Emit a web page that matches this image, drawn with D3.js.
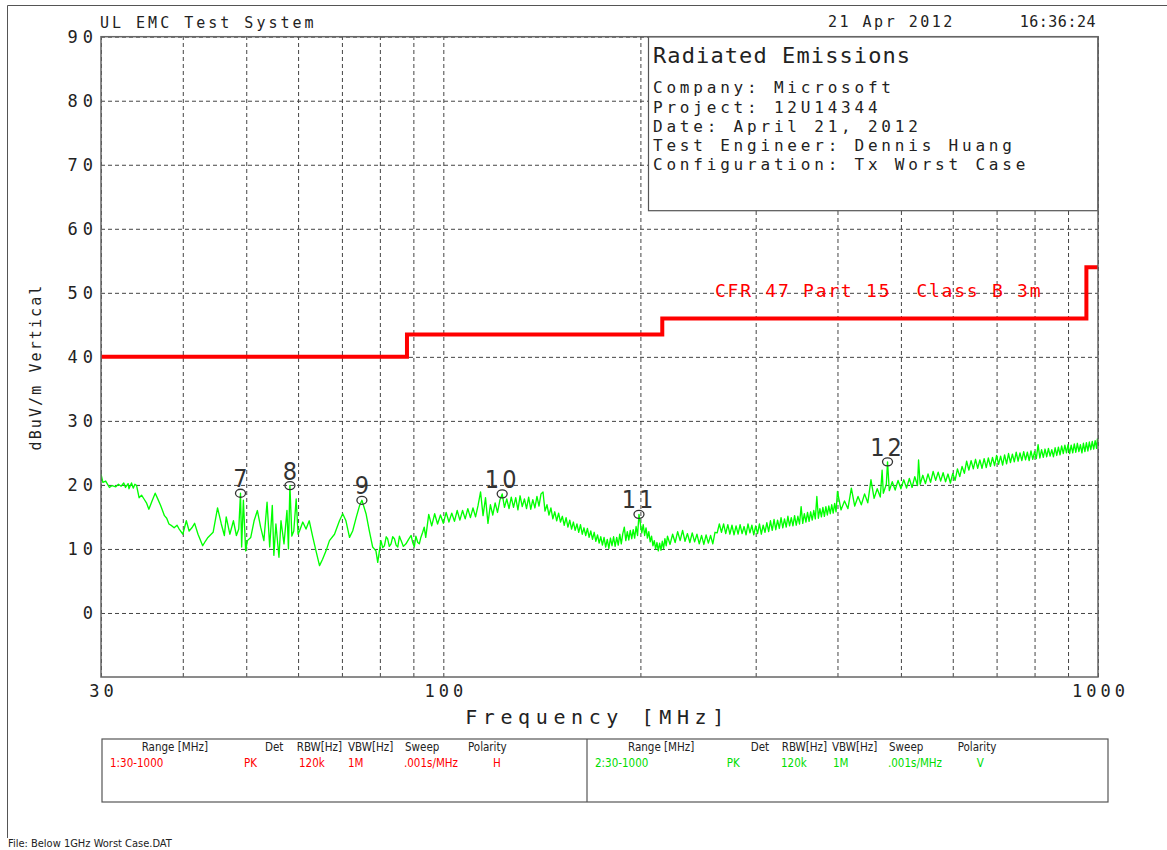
<!DOCTYPE html>
<html>
<head>
<meta charset="utf-8">
<script src="https://cdn.jsdelivr.net/npm/d3@7"></script>
<style>
  html, body { margin: 0; padding: 0; background: #fff; }
  svg { display: block; }
  text { font-family: "DejaVu Sans Mono", "Liberation Mono", monospace; fill: #222; }
  text.cond { font-family: "DejaVu Sans Condensed", "Liberation Sans Narrow", "DejaVu Sans", sans-serif; }
</style>
</head>
<body>
<svg id="chart" width="1167" height="850"></svg>
<script>
// ---- axis ticks and grid ----
const yTicks = [0, 10, 20, 30, 40, 50, 60, 70, 80, 90];
const xTickLabels = [30, 100, 1000];
const xGrid = [40, 50, 60, 70, 80, 90, 100, 200, 300, 400, 500, 600, 700, 800, 900];

// ---- FCC Part 15 Class B (3 m) limit, MHz / dBuV/m ----
const limitFreq  = [30, 88, 88, 216, 216, 960, 960, 1000];
const limitLevel = [40, 40, 43.5, 43.5, 46, 46, 54, 54];
const limitLabel = "CFR 47 Part 15  Class B 3m";

// ---- vertical polarity sweep, [MHz, dBuV/m] ----
const sweepV = [
  [30.0,21.7],[30.2,20.4],[30.5,20.6],[30.9,19.6],[31.2,19.9],[31.6,19.7],[31.9,20.1],[32.2,19.8],[32.5,20.3],[32.7,19.6],
  [33.0,20.2],[33.1,19.4],[33.4,20.3],[33.6,19.5],[33.8,20.1],[34.0,19.9],[34.3,18.0],[34.6,18.4],[34.9,17.8],[35.2,17.2],
  [35.5,16.2],[35.9,17.5],[36.3,18.7],[36.6,17.9],[37.0,16.8],[37.5,15.2],[37.8,14.8],[38.1,13.9],[38.5,13.6],[38.8,13.3],
  [39.2,13.7],[39.5,13.1],[40.0,12.3],[40.5,14.4],[40.9,12.8],[41.3,13.3],[41.7,14.0],[42.2,12.3],[42.9,10.5],[43.3,11.2],
  [43.7,11.8],[44.5,12.6],[45.2,16.4],[45.8,13.9],[46.3,12.1],[46.6,15.0],[47.2,12.3],[47.8,14.4],[48.3,12.1],[48.7,13.1],
  [49.0,18.7],[49.2,10.3],[49.5,17.6],[49.9,9.7],[50.2,11.3],[50.8,11.8],[51.4,14.4],[52.0,16.0],[52.6,13.4],[53.2,11.3],
  [53.8,17.3],[54.3,10.3],[54.8,16.8],[55.1,9.0],[55.5,13.9],[56.1,8.7],[56.5,14.4],[57.1,10.8],[57.7,16.0],[58.0,10.0],
  [58.3,19.9],[58.7,12.0],[59.1,12.8],[59.6,17.8],[60.0,12.3],[60.3,12.8],[61.0,14.2],[61.7,13.1],[62.4,14.4],[63.2,11.8],
  [63.9,9.7],[64.7,7.4],[65.4,8.4],[66.2,9.7],[67.0,11.3],[68.2,12.3],[69.4,14.4],[70.2,15.5],[71.0,14.4],[71.9,11.8],
  [72.7,12.8],[73.6,14.9],[74.5,16.8],[75.1,17.6],[76.2,15.5],[77.1,12.8],[78.0,10.3],[78.9,9.7],[79.4,7.9],[80.3,11.3],
  [80.8,10.2],[81.3,10.5],[81.8,11.9],[82.2,11.6],[82.7,10.4],[83.2,10.8],[83.7,11.9],[84.2,11.6],[84.7,10.6],[85.2,10.3],
  [85.7,12.0],[86.2,11.3],[86.9,10.4],[87.7,10.8],[88.5,11.5],[89.3,12.1],[89.8,11.0],[90.3,10.3],[90.8,12.0],[91.4,11.0],
  [91.9,10.8],[92.4,11.8],[93.0,12.6],[93.5,13.4],[94.0,11.8],
  [95,15.4],[96,13.6],[97,15.5],[98,13.9],[99,15.3],[100,14.0],[101,15.7],[102,14.2],[103,15.6],[104,14.3],
  [105,16.0],[106,14.5],[107,16.0],[108,14.7],[109,16.3],[110,14.9],[111,16.4],[112,15.0],[113,16.8],[114,18.9],
  [115,15.2],[116,18.0],[117,14.0],[118,16.9],[119,15.3],[120,17.2],[121,15.7],[122,17.6],[123,18.6],[124,16.5],
  [125,17.8],[126,16.3],[127,18.1],[128,16.5],[129,18.0],[130,16.1],[131,18.3],[132,16.6],[133,17.8],[134,16.3],
  [135,18.1],[136,16.2],[137,17.7],[138,16.4],[139,18.2],[140,16.7],[141,18.6],[142,18.9],[143,15.9],[144,16.9],
  [145,15.3],[146,16.4],[147,14.7],[148,15.8],[149,14.4],[150,15.6],[151,14.2],[152,15.1],[153,13.7],[154,14.9],
  [155,13.4],[156,14.5],[157,13.1],[158,14.2],[159,12.9],[160,13.9],[161,12.6],[162,13.8],[163,12.3],[164,13.3],
  [165,12.1],[166,13.2],[167,11.8],[168,12.8],[169,11.5],[170,12.6],[171,11.2],[172,12.2],[173,10.9],[174,11.9],
  [175,10.6],[176,11.8],[177,10.3],[178,11.5],[179,10.1],[180,11.7],[181,10.5],[182,11.9],[183,10.4],[184,11.8],
  [185,10.6],[186,12.3],[187,10.8],[188,12.4],[189,13.4],[190,11.3],[191,12.7],[192,11.4],[193,12.9],[194,11.6],
  [195,13.0],[196,11.7],[197,13.5],[198,12.1],[199,15.4],[200,13.9],[201,12.5],[202,13.8],[203,12.1],[204,13.3],
  [205,11.7],[206,12.7],[207,11.1],[208,12.0],[209,10.5],[210,11.3],[211,10.0],[212,11.0],[213,9.7],[214,10.9],
  [215,9.8],[216,11.2],[217,10.1],[218,11.6],[219,10.5],[220,12.0],
  [222,10.7],[224,12.3],[226,11.0],[228,12.7],[230,11.3],[232,12.9],[234,11.2],[236,12.4],[238,11.0],[240,12.5],
  [242,11.1],[244,12.3],[246,10.8],[248,12.1],[250,10.7],[252,12.2],[254,10.9],[256,12.1],[258,10.8],[260,12.6],
  [262,12.5],[264,13.9],[266,12.6],[268,13.9],[270,12.4],[272,13.8],[274,12.3],[276,13.7],[278,12.2],[280,13.6],
  [282,12.3],[284,13.8],[286,12.4],[288,13.5],[290,12.2],[292,13.9],[294,12.5],[296,13.7],[298,12.2],[300,13.6],
  [302,12.4],[304,13.9],[306,12.3],[308,13.7],[310,12.6],[312,14.1],[314,12.7],[316,14.4],[318,12.9],[320,14.6],
  [322,13.0],[324,14.5],[326,13.2],[328,14.9],[330,13.3],[332,14.7],[334,13.4],[336,15.1],[338,13.6],[340,14.9],
  [342,13.6],[344,15.2],[346,13.7],[348,15.1],[350,13.9],[352,16.6],[354,14.0],[356,15.5],[358,14.2],[360,15.7],
  [362,14.3],[364,15.8],[366,14.5],[368,16.0],[370,14.7],[372,18.2],[374,14.8],[376,16.3],[378,15.0],[380,16.5],
  [382,15.1],[384,16.6],[386,15.3],[388,16.7],[390,15.5],[392,16.9],[394,15.6],[396,17.1],[398,15.8],[400,19.0],
  [405,16.1],[410,17.5],[415,16.3],[420,19.5],[425,16.7],[430,18.2],[435,16.9],[440,18.6],[445,17.2],[450,20.8],
  [455,17.9],[460,19.4],[465,18.1],[468,22.3],[470,18.7],[475,20.1],[477,23.6],[480,19.1],[485,20.5],[490,19.2],
  [495,20.7],[500,19.4],[505,20.8],[510,19.5],[515,21.0],[520,19.6],[525,21.3],[530,19.9],[532,23.9],[535,20.1],
  [540,21.5],[545,20.2],[550,21.7],[555,20.4],[560,22.1],[565,20.7],[570,22.0],[575,20.6],[580,21.9],[585,20.5],
  [590,21.7],[595,20.3],[600,21.8],[605,20.7],[610,22.5],[615,21.3],[620,22.9],[625,21.8],[630,23.7],[635,22.3],
  [640,23.8],[645,22.5],[650,24.0],[655,22.6],[660,23.9],[665,22.6],[670,24.1],[675,22.7],[680,24.2],[685,22.9],
  [690,24.3],[695,23.0],[700,24.6],[705,23.2],[710,24.5],[715,23.1],[720,24.7],[725,23.3],[730,24.9],[735,23.5],
  [740,24.8],[745,23.6],[750,25.1],[755,23.7],[760,25.0],[765,23.8],[770,25.2],[775,23.9],[780,25.1],[785,23.8],
  [790,25.3],[795,24.0],[800,25.2],[805,24.1],[810,26.3],[815,24.2],[820,25.5],[825,24.3],[830,25.6],[835,24.4],
  [840,25.7],[845,24.5],[850,25.5],[855,24.4],[860,25.8],[865,24.6],[870,25.9],[875,24.7],[880,26.1],[885,24.9],
  [890,26.2],[895,25.0],[900,26.3],[905,24.9],[910,26.2],[915,25.0],[920,26.4],[925,25.1],[930,26.5],[935,25.2],
  [940,26.3],[945,25.0],[950,26.5],[955,25.2],[960,26.6],[965,25.3],[970,26.7],[975,25.5],[980,26.8],[985,25.6],
  [990,26.9],[995,25.7],[998,27.2],[1000,26.3]
];

// ---- peak markers ----
const markerIds   = ["7", "8", "9", "10", "11", "12"];
const markerFreq  = [49.0, 58.3, 75.1, 123, 199, 477];
const markerLevel = [18.7, 19.9, 17.6, 18.6, 15.4, 23.6];

// ---- header / info box text ----
const headerLeft = "UL EMC Test System";
const headerDate = "21 Apr 2012";
const headerTime = "16:36:24";
const infoTitle = "Radiated Emissions";
const infoLines = [
  "Company: Microsoft",
  "Project: 12U14344",
  "Date: April 21, 2012",
  "Test Engineer: Dennis Huang",
  "Configuration: Tx Worst Case"
];
const xTitle = "Frequency [MHz]";
const yTitle = "dBuV/m Vertical";
const fileLine = "File: Below 1GHz Worst Case.DAT";

// ---- sweep settings table ----
const tableHeads = ["Range [MHz]", "Det", "RBW[Hz]", "VBW[Hz]", "Sweep", "Polarity"];
const rowH = ["1:30-1000", "PK", "120k", "1M", ".001s/MHz", "H"];
const rowV = ["2:30-1000", "PK", "120k", "1M", ".001s/MHz", "V"];

// ================= drawing =================
const svg = d3.select("#chart");
const plot = { left: 101, right: 1098, top: 36.7, bottom: 677 };
const x = d3.scaleLog().domain([30, 1000]).range([plot.left, plot.right]);
const y = d3.scaleLinear().domain([-10, 90]).range([plot.bottom, plot.top]);

// page border
svg.append("path")
  .attr("d", "M7.5,838 V5.5 H1167")
  .attr("fill", "none").attr("stroke", "#555").attr("stroke-width", 1);

// y grid + labels
const gy = svg.append("g")
  .attr("transform", `translate(${plot.left},0)`)
  .call(d3.axisLeft(y).tickValues(yTicks).tickSize(-(plot.right - plot.left)).tickPadding(3));
gy.select(".domain").remove();
gy.selectAll(".tick line")
  .attr("stroke", "#444").attr("stroke-width", 1).attr("stroke-dasharray", "4,3");
gy.selectAll(".tick text")
  .attr("font-size", 17).attr("letter-spacing", 5).attr("dy", "0.33em");

// x grid + labels
const gx = svg.append("g")
  .attr("transform", `translate(0,${plot.bottom})`)
  .call(d3.axisBottom(x)
    .tickValues([30].concat(xGrid, [1000]))
    .tickSize(-(plot.bottom - plot.top))
    .tickPadding(8)
    .tickFormat(d => xTickLabels.includes(d) ? String(d) : ""));
gx.select(".domain").remove();
gx.selectAll(".tick line")
  .attr("stroke", "#444").attr("stroke-width", 1).attr("stroke-dasharray", "4,3");
gx.selectAll(".tick text")
  .attr("font-size", 17).attr("letter-spacing", 4).attr("dx", 2);

// axis titles
svg.append("text")
  .attr("x", (plot.left + plot.right) / 2 - 2).attr("y", 724)
  .attr("text-anchor", "middle").attr("font-size", 20).attr("letter-spacing", 5.6)
  .text(xTitle);
svg.append("text")
  .attr("transform", "translate(41,367) rotate(-90)")
  .attr("text-anchor", "middle").attr("font-size", 15).attr("letter-spacing", 2.1)
  .text(yTitle);

// header
svg.append("text").attr("x", 100).attr("y", 28)
  .attr("font-size", 15).attr("letter-spacing", 3).text(headerLeft);
svg.append("text").attr("x", 828).attr("y", 27)
  .attr("font-size", 15).attr("letter-spacing", 2.5).text(headerDate);
svg.append("text").attr("x", 1096).attr("y", 27).attr("text-anchor", "end")
  .attr("font-size", 15).attr("letter-spacing", 0.5).text(headerTime);

// info box
const boxX = 648.5;
svg.append("rect")
  .attr("x", boxX).attr("y", plot.top)
  .attr("width", plot.right - boxX).attr("height", 174)
  .attr("fill", "#fff").attr("stroke", "#555").attr("stroke-width", 1.2);
svg.append("text").attr("x", 653).attr("y", 63)
  .attr("font-size", 22).attr("letter-spacing", 1.1).text(infoTitle);
svg.selectAll("text.info").data(infoLines).join("text")
  .attr("class", "info")
  .attr("x", 653).attr("y", (d, i) => 93.3 + i * 19.2)
  .attr("font-size", 16).attr("letter-spacing", 3.8)
  .text(d => d);

// clip for plotted data
svg.append("clipPath").attr("id", "plotClip")
  .append("rect").attr("x", plot.left).attr("y", plot.top)
  .attr("width", plot.right - plot.left).attr("height", plot.bottom - plot.top);

// limit line
const limitPts = limitFreq.map((f, i) => [f, limitLevel[i]]);
svg.append("path")
  .datum(limitPts)
  .attr("clip-path", "url(#plotClip)")
  .attr("fill", "none").attr("stroke", "#ff0000").attr("stroke-width", 4)
  .attr("stroke-linejoin", "miter")
  .attr("d", d3.line().x(d => x(d[0])).y(d => y(d[1])));
svg.append("text")
  .attr("x", 715).attr("y", 297)
  .attr("font-size", 18).attr("letter-spacing", 1.75)
  .style("white-space", "pre").style("fill", "#ff0000")
  .text(limitLabel);

// sweep trace
svg.append("path")
  .datum(sweepV)
  .attr("clip-path", "url(#plotClip)")
  .attr("fill", "none").attr("stroke", "#00ff00").attr("stroke-width", 1.35)
  .attr("stroke-linejoin", "round")
  .attr("d", d3.line().x(d => x(d[0])).y(d => y(d[1])));

// markers
const mk = svg.selectAll("g.marker").data(markerIds).join("g").attr("class", "marker")
  .attr("transform", (d, i) => `translate(${x(markerFreq[i])},${y(markerLevel[i])})`);
mk.append("ellipse").attr("rx", 5).attr("ry", 4)
  .attr("fill", "none").attr("stroke", "#333").attr("stroke-width", 1.3);
mk.append("text").attr("class", "cond")
  .attr("y", -6).attr("text-anchor", "middle")
  .attr("font-size", 25).attr("letter-spacing", d => d.length > 1 ? 3 : 0)
  .style("fill", "#333")
  .text(d => d);

// plot frame
svg.append("rect")
  .attr("x", plot.left).attr("y", plot.top)
  .attr("width", plot.right - plot.left).attr("height", plot.bottom - plot.top)
  .attr("fill", "none").attr("stroke", "#666").attr("stroke-width", 1.5);

// sweep settings table
svg.append("rect").attr("x", 102).attr("y", 739).attr("width", 1006).attr("height", 63)
  .attr("fill", "none").attr("stroke", "#555").attr("stroke-width", 1.2);
svg.append("line").attr("x1", 587).attr("x2", 587).attr("y1", 739).attr("y2", 802)
  .attr("stroke", "#555").attr("stroke-width", 1.2);

const colsLeft  = [141.7, 265, 296.7, 348, 405, 468];
const valsLeft  = [110, 244, 299, 348, 404, 493];
const colsRight = [628, 750.7, 781.7, 832, 889, 957.7];
const valsRight = [595, 726.7, 781, 833, 888, 976.7];

function tableRow(labels, xs, yPos, color) {
  svg.append("g").selectAll("text").data(labels).join("text")
    .attr("class", "cond")
    .attr("x", (d, i) => xs[i]).attr("y", yPos)
    .attr("font-size", 11.5)
    .style("fill", color)
    .text(d => d);
}
tableRow(tableHeads, colsLeft, 751, "#222");
tableRow(rowH, valsLeft, 767, "#ff0000");
tableRow(tableHeads, colsRight, 751, "#222");
tableRow(rowV, valsRight, 767, "#00dd00");

// file name footer
svg.append("text").attr("class", "cond")
  .attr("x", 8).attr("y", 847).attr("font-size", 11)
  .text(fileLine);
</script>
</body>
</html>
